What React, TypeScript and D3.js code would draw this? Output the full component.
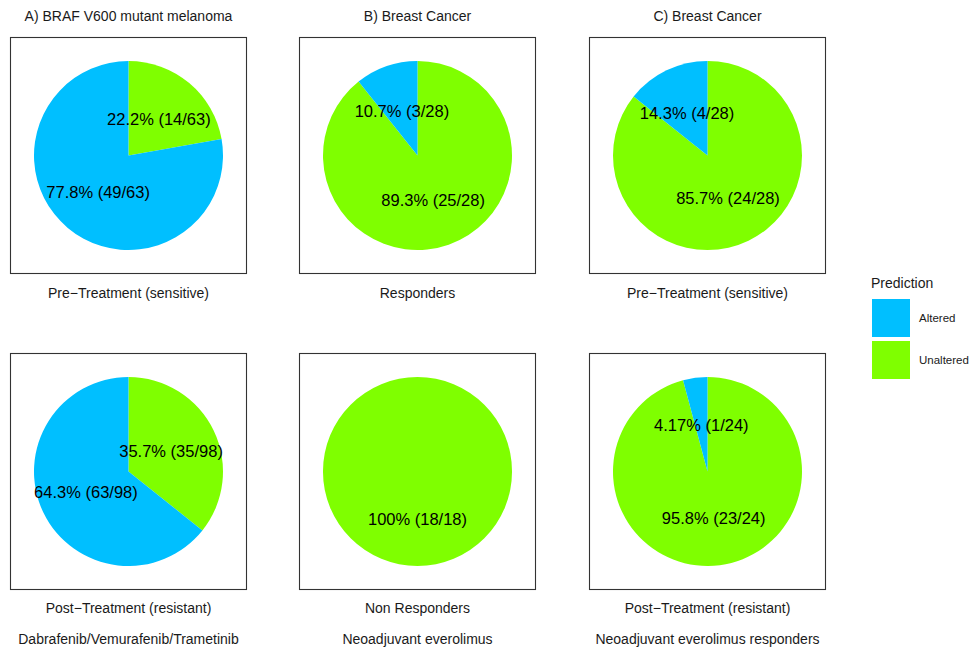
import React from "react";
import * as d3 from "d3";

// Category names and fills
const categories = ["Unaltered", "Altered"];
const legendOrder = ["Altered", "Unaltered"];
const colors: Record<string, string> = { Altered: "#00BFFF", Unaltered: "#7FFF00" };

// Column headers and footers
const columnTitles = ["A) BRAF V600 mutant melanoma", "B) Breast Cancer", "C) Breast Cancer"];
const columnFooters = [
  "Dabrafenib/Vemurafenib/Trametinib",
  "Neoadjuvant everolimus",
  "Neoadjuvant everolimus responders",
];
const topLabels = ["Pre\u2212Treatment (sensitive)", "Responders", "Pre\u2212Treatment (sensitive)"];
const bottomLabels = ["Post\u2212Treatment (resistant)", "Non Responders", "Post\u2212Treatment (resistant)"];

// Sample counts per panel: [Unaltered, Altered]
const topCounts = [
  [14, 49],
  [25, 3],
  [24, 4],
];
const bottomCounts = [
  [35, 63],
  [18, 0],
  [23, 1],
];

const W = 970;
const H = 648;
const font = "'Liberation Sans', Arial, Helvetica, sans-serif";

const colX = d3.scaleOrdinal<number, number>().domain([0, 1, 2]).range([10.5, 299.5, 589.5]);
const rowY = [37.5, 353.5];
const boxSize = 236;
const radius = 94.5;

const fmtPct = d3.format(".3~r");

function Pie({ x, y, counts }: { x: number; y: number; counts: number[] }) {
  const total = d3.sum(counts);
  const data = categories.map((c, i) => ({ key: c, value: counts[i] }));
  const pie = d3
    .pie<{ key: string; value: number }>()
    .sort(null)
    .value((d) => d.value)
    .startAngle(0)
    .endAngle(2 * Math.PI);
  const arcs = pie(data);
  const arc = d3.arc<d3.PieArcDatum<{ key: string; value: number }>>().innerRadius(0).outerRadius(radius);
  const cx = x + boxSize / 2;
  const cy = y + boxSize / 2;
  return (
    <g>
      <rect x={x} y={y} width={boxSize} height={boxSize} fill="#fff" stroke="#333" strokeWidth={1.1} />
      <g transform={`translate(${cx},${cy})`}>
        {arcs.map((a) =>
          a.data.value > 0 ? <path key={a.data.key} d={arc(a) || ""} fill={colors[a.data.key]} /> : null
        )}
        {arcs.map((a) => {
          if (a.data.value <= 0) return null;
          const [lx, ly] = arc.centroid(a);
          return (
            <text
              key={"t" + a.data.key}
              x={lx}
              y={ly}
              dy="0.36em"
              textAnchor="middle"
              fontSize={16.5}
              fontFamily={font}
              fill="#000"
            >
              {`${fmtPct((a.data.value / total) * 100)}% (${a.data.value}/${total})`}
            </text>
          );
        })}
      </g>
    </g>
  );
}

export default function App() {
  return (
    <div style={{ position: "absolute", left: 0, top: 0 }}>
      <svg width={W} height={H} style={{ display: "block", background: "#fff" }}>
        {columnTitles.map((t, i) => (
          <g key={t + i}>
            <text x={colX(i) + boxSize / 2} y={21} textAnchor="middle" fontSize={14} fontFamily={font} fill="#1a1a1a">
              {t}
            </text>
            <Pie x={colX(i)} y={rowY[0]} counts={topCounts[i]} />
            <text x={colX(i) + boxSize / 2} y={298} textAnchor="middle" fontSize={14} fontFamily={font} fill="#1a1a1a">
              {topLabels[i]}
            </text>
            <Pie x={colX(i)} y={rowY[1]} counts={bottomCounts[i]} />
            <text x={colX(i) + boxSize / 2} y={613} textAnchor="middle" fontSize={14} fontFamily={font} fill="#1a1a1a">
              {bottomLabels[i]}
            </text>
            <text x={colX(i) + boxSize / 2} y={644} textAnchor="middle" fontSize={14} fontFamily={font} fill="#1a1a1a">
              {columnFooters[i]}
            </text>
          </g>
        ))}
        <g>
          <text x={871} y={288} fontSize={14} fontFamily={font} fill="#1a1a1a">
            Prediction
          </text>
          {legendOrder.map((k, i) => (
            <g key={k}>
              <rect x={872} y={299 + i * 42} width={38} height={38} fill={colors[k]} />
              <text x={919} y={318 + i * 42} dy="0.35em" fontSize={11.5} fontFamily={font} fill="#1a1a1a">
                {k}
              </text>
            </g>
          ))}
        </g>
      </svg>
    </div>
  );
}
